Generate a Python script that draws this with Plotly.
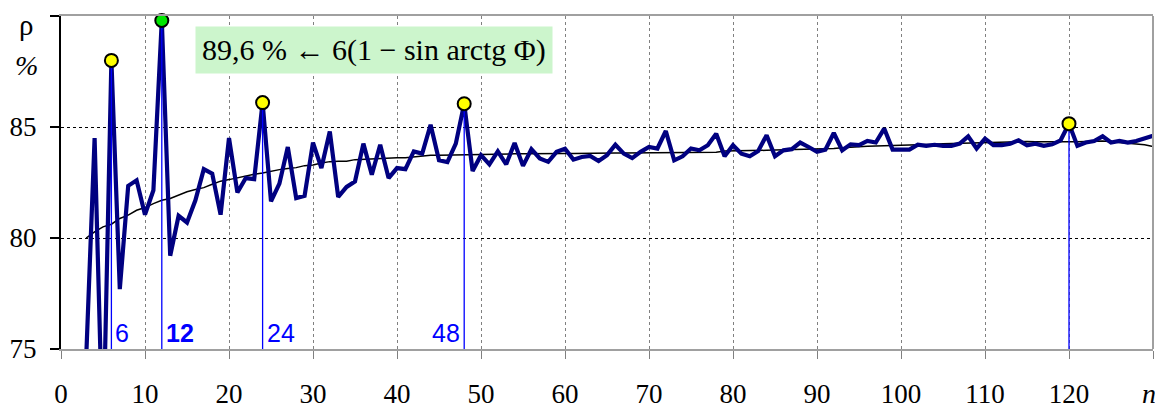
import plotly.graph_objects as go

# ---------------- data ----------------
n_values = list(range(3, 131))
rho = [74.6, 84.5, 70.5, 88.0, 77.7, 82.35, 82.6, 81.05, 82.15, 89.8,
       79.2, 81.0, 80.7, 81.7, 83.1, 82.9, 81.05, 84.5, 82.05, 82.7,
       82.65, 86.1, 81.65, 82.45, 84.1, 81.8, 81.9, 84.3, 83.15, 84.8,
       81.85, 82.3, 82.55, 84.25, 82.85, 84.2, 82.7, 83.15, 83.1, 83.9,
       83.8, 85.1, 83.5, 83.42, 84.25, 86.05, 83.02, 83.73, 83.32, 83.9,
       83.32, 84.28, 83.25, 84.0, 83.58, 83.43, 83.88, 84.02, 83.53, 83.65,
       83.7, 83.47, 83.73, 84.2, 83.8, 83.6, 83.88, 84.1, 84.03, 84.82,
       83.5, 83.68, 84.03, 83.95, 84.18, 84.7, 83.68, 84.18, 83.8, 83.68,
       83.92, 84.63, 83.68, 83.95, 84.0, 84.3, 84.1, 83.88, 83.98, 84.73,
       83.95, 84.22, 84.18, 84.37, 84.3, 84.93, 83.98, 83.98, 83.98, 84.2,
       84.15, 84.2, 84.15, 84.15, 84.25, 84.58, 84.03, 84.48, 84.18, 84.18,
       84.25, 84.4, 84.18, 84.25, 84.15, 84.22, 84.4, 85.15, 84.15, 84.3,
       84.37, 84.58, 84.3, 84.37, 84.3, 84.37, 84.48, 84.6]
trend = [80.00, 80.28, 80.50, 80.62, 80.88, 81.03, 81.25, 81.37, 81.55, 81.70,
         81.78, 81.93, 82.08, 82.18, 82.27, 82.42, 82.56, 82.63, 82.72, 82.78,
         82.87, 82.93, 83.02, 83.08, 83.13, 83.17, 83.26, 83.29, 83.38, 83.44,
         83.46, 83.46, 83.53, 83.55, 83.57, 83.59, 83.62, 83.62, 83.62, 83.65,
         83.71, 83.73, 83.73, 83.74, 83.75, 83.76, 83.77, 83.77, 83.78, 83.78,
         83.78, 83.79, 83.79, 83.80, 83.80, 83.80, 83.81, 83.81, 83.81, 83.82,
         83.82, 83.82, 83.82, 83.83, 83.83, 83.83, 83.83, 83.83, 83.83, 83.83,
         83.83, 83.83, 83.83, 83.84, 83.84, 83.86, 83.92, 83.92, 83.93, 83.94,
         83.94, 83.95, 83.96, 83.97, 83.98, 83.98, 83.99, 84.00, 84.00, 84.03,
         84.07, 84.10, 84.12, 84.13, 84.14, 84.15, 84.15, 84.15, 84.17, 84.19,
         84.20, 84.22, 84.25, 84.26, 84.28, 84.29, 84.30, 84.33, 84.34, 84.35,
         84.36, 84.36, 84.35, 84.34, 84.33, 84.33, 84.33, 84.33, 84.34, 84.35,
         84.36, 84.37, 84.33, 84.30, 84.27, 84.25, 84.20, 84.12]

peak_n = [6, 12, 24, 48, 120]
peak_rho = [88.0, 89.8, 86.1, 86.05, 85.15]
peak_colors = ["#ffff00", "#00e600", "#ffff00", "#ffff00", "#ffff00"]
peak_labels = ["6", "<b>12</b>", "24", "48", ""]
label_side = ["left", "left", "left", "right", "left"]

x_tickvals = [0, 10, 20, 30, 40, 50, 60, 70, 80, 90, 100, 110, 120, 130]
x_ticktext = ["0", "10", "20", "30", "40", "50", "60", "70", "80", "90",
              "100", "110", "120", ""]
x_axis_name = "<i>n</i>"
y_tickvals = [75, 80, 85, 90]
y_ticktext = ["75", "80", "85", ""]

Y_MIN, Y_MAX = 75, 90
X_MIN, X_MAX = 0, 130

SERIF = "Liberation Serif"
SANS = "Liberation Sans"

fig = go.Figure()

# trend line
fig.add_trace(go.Scatter(x=n_values, y=trend, mode="lines",
                         line=dict(color="black", width=1.5),
                         hoverinfo="skip", showlegend=False))
# main series
fig.add_trace(go.Scatter(x=n_values, y=rho, mode="lines",
                         line=dict(color="#000080", width=4.2),
                         showlegend=False))

# vertical blue lines from axis to the peaks
vx, vy = [], []
for xn, yv in zip(peak_n, peak_rho):
    vx += [xn, xn, None]
    vy += [Y_MIN, yv, None]
fig.add_trace(go.Scatter(x=vx, y=vy, mode="lines",
                         line=dict(color="#0000ff", width=1.3),
                         hoverinfo="skip", showlegend=False))

# peak markers
fig.add_trace(go.Scatter(x=peak_n, y=peak_rho, mode="markers",
                         marker=dict(size=13, color=peak_colors,
                                     line=dict(color="black", width=2)),
                         cliponaxis=False, showlegend=False))

# blue labels near the vertical lines
for xn, lab, side in zip(peak_n, peak_labels, label_side):
    if not lab:
        continue
    fig.add_annotation(x=xn, y=Y_MIN, xref="x", yref="y", text=lab,
                       showarrow=False, xanchor=side, yanchor="bottom",
                       xshift=2 if side == "left" else -2, yshift=0,
                       font=dict(family=SANS, size=25, color="#0000ff"))

# formula box
fig.add_annotation(x=37.3, y=88.47, xref="x", yref="y",
                   text="89,6 % \u2190 6(1 \u2212 sin arctg \u03a6)",
                   showarrow=False, xanchor="center", yanchor="middle",
                   bgcolor="#ccf5cc", borderpad=6,
                   font=dict(family=SERIF, size=30, color="black"))

# y-axis unit labels
fig.add_annotation(x=0, y=1, xref="paper", yref="paper", text="\u03c1",
                   showarrow=False, xanchor="center", yanchor="middle",
                   xshift=-35, yshift=-9,
                   font=dict(family=SERIF, size=29, color="black"))
fig.add_annotation(x=0, y=1, xref="paper", yref="paper", text="<i>%</i>",
                   showarrow=False, xanchor="center", yanchor="middle",
                   xshift=-35, yshift=-49,
                   font=dict(family=SERIF, size=28, color="black"))

# x-axis name in place of the last tick label
fig.add_annotation(x=X_MAX, y=0, xref="x", yref="paper", text=x_axis_name,
                   showarrow=False, xanchor="center", yanchor="middle",
                   xshift=-4, yshift=-44,
                   font=dict(family=SERIF, size=28, color="black"))

# right border
fig.add_shape(type="line", xref="paper", yref="paper", x0=1, x1=1, y0=0, y1=1,
              line=dict(color="#a0a0a0", width=2))

fig.update_xaxes(range=[X_MIN, X_MAX], tickmode="array",
                 tickvals=x_tickvals, ticktext=x_ticktext,
                 showgrid=True, gridcolor="#808080", griddash="dot", gridwidth=1,
                 showline=True, linecolor="#a0a0a0", linewidth=2, mirror=True,
                 ticks="outside", ticklen=8, tickcolor="#808080", tickwidth=1,
                 ticklabelstandoff=12, automargin=False,
                 tickfont=dict(family=SERIF, size=27, color="black"),
                 zeroline=False)
fig.update_yaxes(range=[Y_MIN, Y_MAX], tickmode="array",
                 tickvals=y_tickvals, ticktext=y_ticktext,
                 showgrid=True, gridcolor="black", griddash="dot", gridwidth=1,
                 showline=True, linecolor="black", linewidth=2,
                 ticks="outside", ticklen=9, tickcolor="black", tickwidth=1.5,
                 ticklabelstandoff=8, automargin=False,
                 tickfont=dict(family=SERIF, size=27, color="black"),
                 zeroline=False)

# the page body has an 8px margin, so the figure is sized to fit the window
fig.update_layout(width=1155, height=402,
                  margin=dict(l=53, r=10, t=8, b=61),
                  plot_bgcolor="white", paper_bgcolor="white",
                  showlegend=False)

fig.write_html("out.html")
